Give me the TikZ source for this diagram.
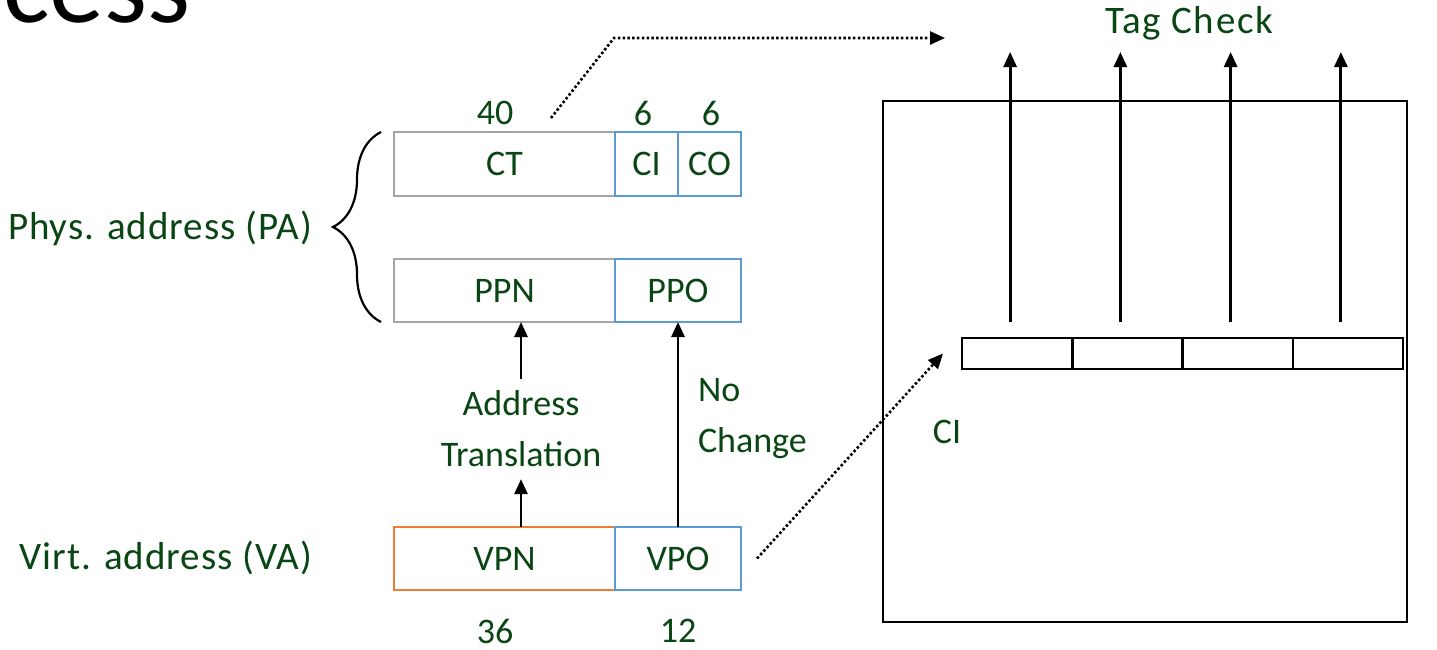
\documentclass[tikz,border=0pt]{standalone}
\usepackage{fontspec}
\setmainfont{Carlito}
\newfontfamily\widelabelfont[LetterSpace=2.5]{Carlito}
\newfontfamily\tagfont[LetterSpace=4]{Carlito}
\usetikzlibrary{arrows.meta,positioning,decorations.pathreplacing}
\definecolor{labelgreen}{HTML}{0A4614}
\definecolor{fieldgray}{HTML}{A5A5A5}
\definecolor{fieldblue}{HTML}{5B9BD5}
\definecolor{fieldorange}{HTML}{ED7D31}

\begin{document}
\begin{tikzpicture}[
  x=1pt, y=-1pt,
  every node/.style={font=\fontsize{36}{51}\selectfont, text=labelgreen, inner sep=0pt, outer sep=0pt},
  biglabel/.style={font=\fontsize{39}{51}\widelabelfont},
  field/.style={rectangle, draw, line width=2.8pt, minimum height=63pt, anchor=west},
  pafield/.style={field, draw=fieldgray},
  offfield/.style={field, draw=fieldblue},
  vafield/.style={field, draw=fieldorange},
  cell/.style={rectangle, draw, line width=2.5pt, minimum width=110.25pt, minimum height=31pt},
  arr/.style={-{Triangle[length=15pt,width=13pt]}, line width=2.8pt},
  dotarr/.style={-{Triangle[length=15pt,width=13pt]}, line width=2.6pt, dash pattern=on 2.5pt off 2.3pt},
]
\useasboundingbox (0,0) rectangle (1437,649);

\node[font=\fontsize{110}{120}\selectfont, text=black, anchor=base west] (title) at (3,22) {cess};

% address fields
\node[pafield, minimum width=221pt, minimum height=64pt] (ct) at (394,164) {CT};
\node[offfield, minimum width=63pt, minimum height=64pt] (ci) at (ct.east) {CI};
\node[offfield, minimum width=63pt, minimum height=64pt] (co) at (ci.east) {CO};
\node[pafield, minimum width=221pt] (ppn) at (394,290.5) {PPN};
\node[offfield, minimum width=126pt] (ppo) at (ppn.east) {PPO};
\node[vafield, minimum width=221pt] (vpn) at (394,558.5) {VPN};
\node[offfield, minimum width=126pt] (vpo) at (vpn.east) {VPO};

\node (ctbits) at (495,113) {40};
\node (cibits) at (643,113) {6};
\node (cobits) at (711,113) {6};
\node (vpnbits) at (495,631) {36};
\node (vpobits) at (678,631) {12};

\node[biglabel, anchor=east] (pa) at (312,228) {Phys. address (PA)};
\node[biglabel, anchor=east] (va) at (312,558) {Virt. address (VA)};
\draw[line width=2.2pt, decorate, decoration={brace, amplitude=48pt}]
  ([xshift=-13pt]ppn.south west) -- ([xshift=-13pt]ct.north west);

\node[align=center, inner ysep=12pt] (xlate) at (521,429) {Address\\Translation};
\node[anchor=north west, align=left] (nochg) at (698,378) {No\\Change};
\draw[arr] (vpn.north -| xlate.south) -- (xlate.south);
\draw[arr] (xlate.north) -- (xlate.north |- ppn.south);
\draw[arr] (vpo.north) -- (ppo.south);

% cache
\node[draw=black, line width=2.4pt, minimum width=524pt, minimum height=521pt, anchor=north west] (cache) at (883,101) {};
\foreach \i in {1,...,4}
  \node[cell] (cell\i) at ({962+110.25*(\i-0.5)},353.5) {};
\coordinate (tagline) at (0,52);
\foreach \i in {1,...,4} {
  \coordinate (up\i) at ([xshift=-7pt]cell\i.north);
  \draw[arr] ([yshift=16pt]up\i) -- (up\i |- tagline);
}
\node[anchor=base, font=\fontsize{39}{51}\tagfont] (tag) at (1189,33) {Tag Check};
\node (cilbl) at (947,432) {CI};

% dotted pointers
\coordinate (cttap) at (551,118);
\coordinate (tagbend) at (614,38);
\coordinate (tagtip) at (945,38);
\draw[dotarr] (cttap) -- (tagbend) -- (tagtip);
\coordinate (vpotap) at ([xshift=16pt]vpo.east);
\draw[dotarr] (vpotap) -- ([xshift=-19pt]cell1.west);

\end{tikzpicture}
\end{document}
